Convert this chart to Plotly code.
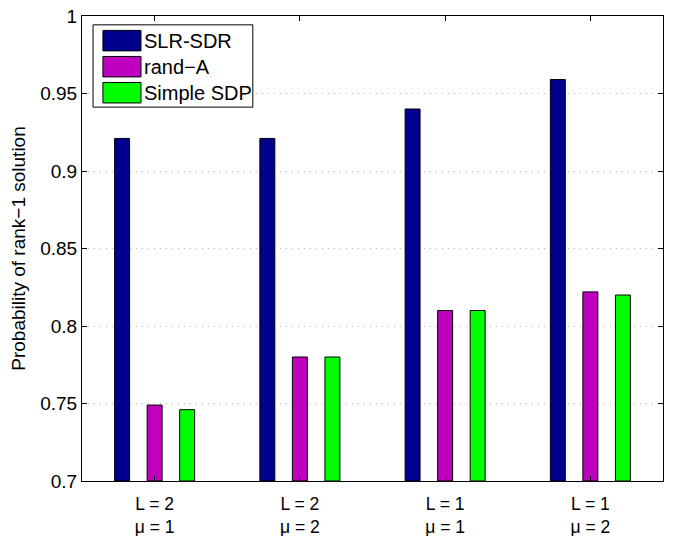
import plotly.graph_objects as go

categories = ["L = 2<br>μ = 1", "L = 2<br>μ = 2", "L = 1<br>μ = 1", "L = 1<br>μ = 2"]
cat_pos = [1, 2, 3, 4]
series_names = ["SLR-SDR", "rand−A", "Simple SDP"]
slr_sdr = [0.921, 0.921, 0.940, 0.959]
rand_a = [0.749, 0.780, 0.810, 0.822]
simple_sdp = [0.746, 0.780, 0.810, 0.820]
colors = ["#00008F", "#BF00BF", "#00FF00"]
y_ticks = [0.7, 0.75, 0.8, 0.85, 0.9, 0.95, 1.0]
y_ticklabels = ["0.7", "0.75", "0.8", "0.85", "0.9", "0.95", "1"]

FONT = "Liberation Sans, Arial, Helvetica, sans-serif"

fig = go.Figure()
for name, vals, col in zip(series_names, [slr_sdr, rand_a, simple_sdp], colors):
    fig.add_trace(go.Bar(
        x=cat_pos, y=[v - 0.7 for v in vals], base=0.7, name=name,
        marker=dict(color=col, line=dict(color="black", width=1)),
        showlegend=False,
    ))

# custom MATLAB-like legend
lx0, lx1, ly0, ly1 = 0.019, 0.294, 0.804, 0.981
fig.add_shape(type="rect", xref="paper", yref="paper", x0=lx0, x1=lx1, y0=ly0, y1=ly1,
              line=dict(color="black", width=1), fillcolor="white", layer="above")
row_y = [0.947, 0.891, 0.835]
for name, col, ry in zip(series_names, colors, row_y):
    fig.add_shape(type="rect", xref="paper", yref="paper", x0=0.036, x1=0.1015,
                  y0=ry - 0.022, y1=ry + 0.022, line=dict(color="black", width=1),
                  fillcolor=col, layer="above")
    fig.add_annotation(xref="paper", yref="paper", x=0.104, y=ry, text=name,
                       showarrow=False, xanchor="left", yanchor="middle",
                       font=dict(family=FONT, size=20, color="black"))

fig.update_layout(
    width=669, height=528,
    margin=dict(l=74, r=14, t=8, b=55, autoexpand=False),
    paper_bgcolor="white", plot_bgcolor="white",
    barmode="group", bargap=0.328, bargroupgap=0.54,
    font=dict(family=FONT, size=19, color="black"),
    showlegend=False,
)
fig.update_xaxes(
    range=[0.5, 4.5], tickmode="array", tickvals=cat_pos, ticktext=categories,
    showline=True, linecolor="black", linewidth=1, mirror="ticks",
    ticks="inside", ticklen=5, tickcolor="black", showgrid=False, zeroline=False,
    tickfont=dict(family=FONT, size=17.5, color="black"), automargin=False,
    ticklabelstandoff=7, ticklabeloverflow="allow",
)
fig.update_yaxes(
    range=[0.7, 1.0], tickmode="array", tickvals=y_ticks, ticktext=y_ticklabels,
    showline=True, linecolor="black", linewidth=1, mirror="ticks",
    ticks="inside", ticklen=5, tickcolor="black",
    showgrid=True, gridcolor="#B4B4B4", griddash="1px,5px", gridwidth=1, zeroline=False,
    tickfont=dict(family=FONT, size=19, color="black"), automargin=False,
    ticklabeloverflow="allow",
    title=dict(text="Probability of rank−1 solution", standoff=9,
               font=dict(family=FONT, size=19, color="black")),
)

fig.write_html("out.html")
